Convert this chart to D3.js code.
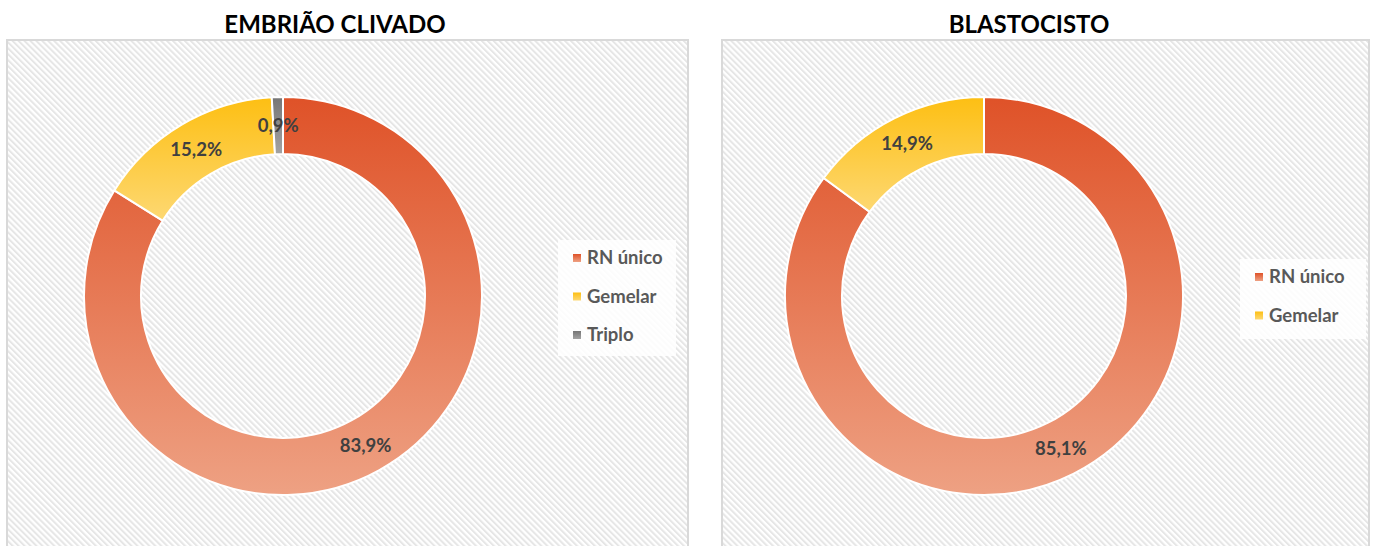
<!DOCTYPE html>
<html>
<head>
<meta charset="utf-8">
<script src="https://cdn.jsdelivr.net/npm/d3@7"></script>
<style>
  body { margin: 0; background: #fff; }
  text { font-family: Lato, "Open Sans", sans-serif; font-weight: bold; }
</style>
</head>
<body>
<svg id="chart" width="1375" height="546"></svg>
<script>
// data
const titles = ['EMBRIÃO CLIVADO', 'BLASTOCISTO'];
const clivadoCats = ['RN único', 'Gemelar', 'Triplo'];
const clivadoVals = [83.9, 15.2, 0.9];
const blastoCats = ['RN único', 'Gemelar'];
const blastoVals = [85.1, 14.9];

// colours per category: [top, bottom]
const catColors = {
    'RN único': ['#df5228', '#eea183'],
    'Gemelar': ['#fdbf13', '#fdd872'],
    'Triplo': ['#767676', '#a3a3a3']
};

const svg = d3.select('#chart');
const defs = svg.append('defs');

// diagonal hatch background
const pat = defs.append('pattern')
    .attr('id', 'hatch')
    .attr('patternUnits', 'userSpaceOnUse')
    .attr('width', 4.2)
    .attr('height', 4.2)
    .attr('patternTransform', 'rotate(-45)');
pat.append('rect').attr('width', 4.2).attr('height', 4.2).attr('fill', '#ffffff');
pat.append('rect').attr('width', 2).attr('height', 4.2).attr('fill', '#e6e6e6');

Object.entries(catColors).forEach(([k, c], i) => {
    const g = defs.append('linearGradient')
        .attr('id', 'grad' + i)
        .attr('x1', 0).attr('y1', 0).attr('x2', 0).attr('y2', 1);
    g.append('stop').attr('offset', '0%').attr('stop-color', c[0]);
    g.append('stop').attr('offset', '100%').attr('stop-color', c[1]);
    catColors[k].id = 'grad' + i;
});

const panels = [
    { title: titles[0], cats: clivadoCats, vals: clivadoVals,
      box: [7, 40, 681, 530], titleX: 335, cx: 283, cy: 296,
      legend: [558, 240, 118, 116] },
    { title: titles[1], cats: blastoCats, vals: blastoVals,
      box: [722, 40, 647, 530], titleX: 1029, cx: 984, cy: 296,
      legend: [1240, 259, 126, 80] }
];

const outerR = 199, innerR = 142;

panels.forEach(p => {
    const g = svg.append('g');

    g.append('rect')
        .attr('x', p.box[0]).attr('y', p.box[1])
        .attr('width', p.box[2]).attr('height', p.box[3])
        .attr('fill', 'url(#hatch)')
        .attr('stroke', '#d9d9d9')
        .attr('stroke-width', 2);

    g.append('text')
        .attr('x', p.titleX).attr('y', 33)
        .attr('text-anchor', 'middle')
        .attr('font-size', 24)
        .attr('fill', '#000')
        .text(p.title);

    const data = p.cats.map((c, i) => ({ cat: c, value: p.vals[i] }));
    const pie = d3.pie().value(d => d.value).sort(null);
    const arc = d3.arc().innerRadius(innerR).outerRadius(outerR);
    const labelArc = d3.arc().innerRadius((innerR + outerR) / 2).outerRadius((innerR + outerR) / 2);

    const donut = g.append('g').attr('transform', `translate(${p.cx},${p.cy})`);
    const arcs = pie(data);

    donut.selectAll('path')
        .data(arcs)
        .enter().append('path')
        .attr('d', arc)
        .attr('fill', d => `url(#${catColors[d.data.cat].id})`)
        .attr('stroke', '#fff')
        .attr('stroke-width', 2);

    donut.selectAll('text')
        .data(arcs)
        .enter().append('text')
        .attr('transform', d => `translate(${labelArc.centroid(d)})`)
        .attr('text-anchor', 'middle')
        .attr('dy', '0.35em')
        .attr('font-size', 18.5)
        .attr('fill', '#404040')
        .text(d => d3.format('.1f')(d.data.value).replace('.', ',') + '%');

    // legend
    const lg = g.append('g');
    lg.append('rect')
        .attr('x', p.legend[0]).attr('y', p.legend[1])
        .attr('width', p.legend[2]).attr('height', p.legend[3])
        .attr('fill', '#fff').attr('fill-opacity', 0.85);

    const ly = d3.scalePoint()
        .domain(p.cats)
        .range([p.legend[1] + 18, p.legend[1] + 18 + 38.5 * (p.cats.length - 1)]);

    const items = lg.selectAll('g.item')
        .data(p.cats)
        .enter().append('g')
        .attr('class', 'item')
        .attr('transform', d => `translate(${p.legend[0] + 15},${ly(d)})`);
    items.append('rect')
        .attr('x', 0).attr('y', -4)
        .attr('width', 8).attr('height', 8)
        .attr('fill', d => `url(#${catColors[d].id})`);
    items.append('text')
        .attr('x', 14).attr('dy', '0.35em')
        .attr('font-size', 18.5)
        .attr('fill', '#595959')
        .text(d => d);
});
</script>
</body>
</html>
